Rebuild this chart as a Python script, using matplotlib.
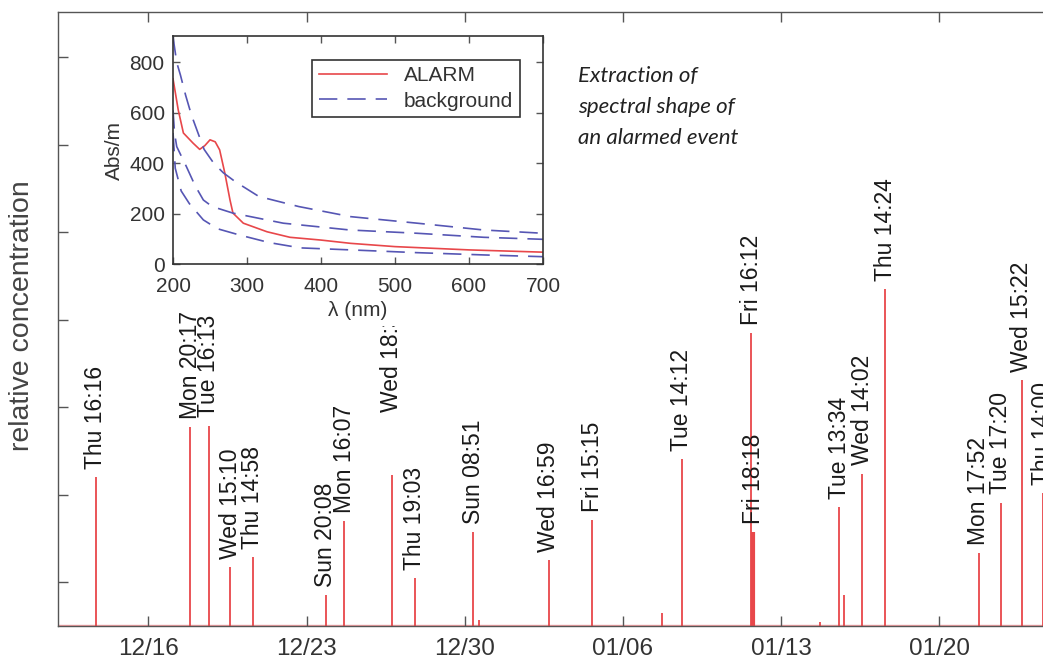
import numpy as np
import pandas as pd
import matplotlib
matplotlib.use("Agg")
import matplotlib.pyplot as plt
import matplotlib.dates as mdates
from matplotlib.patches import Rectangle

plt.rcParams['font.family'] = ['Liberation Sans', 'DejaVu Sans']

# alarm events: time stamp, label, relative peak height
event_times = ["2012-12-13 16:16", "2012-12-17 20:17", "2012-12-18 16:13", "2012-12-19 15:10",
               "2012-12-20 14:58", "2012-12-23 20:08", "2012-12-24 16:07", "2012-12-26 18:30",
               "2012-12-27 19:03", "2012-12-30 08:51", "2013-01-02 16:59", "2013-01-04 15:15",
               "2013-01-08 14:12", "2013-01-11 16:12", "2013-01-11 18:18", "2013-01-15 13:34",
               "2013-01-16 14:02", "2013-01-17 14:24", "2013-01-21 17:52", "2013-01-22 17:20",
               "2013-01-23 15:22", "2013-01-24 14:00"]
event_labels = ["Thu 16:16", "Mon 20:17", "Tue 16:13", "Wed 15:10", "Thu 14:58", "Sun 20:08",
                "Mon 16:07", "Wed 18:30", "Thu 19:03", "Sun 08:51", "Wed 16:59", "Fri 15:15",
                "Tue 14:12", "Fri 16:12", "Fri 18:18", "Tue 13:34", "Wed 14:02", "Thu 14:24",
                "Mon 17:52", "Tue 17:20", "Wed 15:22", "Thu 14:00"]
event_peaks = [1.70, 2.27, 2.29, 0.67, 0.79, 0.35, 1.20, 1.73, 0.55, 1.07, 0.75, 1.21,
               1.91, 3.35, 1.07, 1.36, 1.74, 3.85, 0.83, 1.41, 2.81, 1.52]
# where each label sits (same as the peak, except one placed higher)
label_heights = list(event_peaks)
label_heights[7] = 2.35
event_widths = [1.3] * 22
event_widths[14] = 3.0

# small unlabelled spikes
minor_times = ["2012-12-30 15:30", "2013-01-07 17:40", "2013-01-14 17:00", "2013-01-15 18:30"]
minor_peaks = [0.07, 0.15, 0.04, 0.35]

week_ticks = ["2012-12-16", "2012-12-23", "2012-12-30", "2013-01-06", "2013-01-13", "2013-01-20"]

# absorbance spectra (inset)
alarm_nm = [200, 207, 214, 227, 236, 243, 250, 257, 263, 270, 277, 281, 295, 327, 358, 400, 440, 500, 600, 700]
alarm_abs = [735, 612, 520, 480, 455, 470, 493, 485, 453, 361, 254, 202, 162, 128, 106, 95, 82, 69, 56, 47]

bg1_nm = [200, 205, 210, 217, 225, 235, 242, 255, 268, 284, 316, 370, 440, 530, 620, 700]
bg1_abs = [900, 800, 750, 670, 590, 510, 455, 400, 362, 327, 268, 228, 188, 162, 135, 122]
bg2_nm = [200, 202, 205, 218, 230, 241, 253, 281, 349, 439, 530, 620, 700]
bg2_abs = [610, 520, 466, 387, 310, 254, 228, 202, 162, 135, 122, 106, 98]
bg3_nm = [200, 203, 211, 222, 241, 260, 290, 330, 372, 440, 530, 620, 700]
bg3_abs = [520, 380, 290, 240, 175, 140, 115, 85, 64, 56, 45, 36, 29]

red = '#e8474a'
blue = '#5656b4'
axcol = '#555555'

fig = plt.figure(figsize=(10.43, 6.62), dpi=100)
ax = fig.add_axes([0.0556, 0.0544, 0.975, 0.9275])

t_events = pd.to_datetime(event_times)
t_minor = pd.to_datetime(minor_times)

ax.axhline(0.01, color=red, lw=1.0, alpha=0.5, zorder=1)
ax.vlines(t_events, 0, event_peaks, colors=red, linewidths=event_widths, zorder=2)
ax.vlines(t_minor, 0, minor_peaks, colors=red, linewidths=1.3, zorder=2)

for t, lab, h in zip(t_events, event_labels, label_heights):
    ax.annotate(lab, xy=(t, h), xytext=(0, 6), textcoords='offset points',
                rotation=90, ha='center', va='bottom', fontsize=16.5, color='#1a1a1a', zorder=3)

ax.set_xlim(pd.Timestamp("2012-12-12"), pd.Timestamp("2013-01-26"))
ax.set_ylim(0, 7.02)
ax.set_xticks(pd.to_datetime(week_ticks))
ax.xaxis.set_major_formatter(mdates.DateFormatter('%m/%d'))
ax.set_yticks(np.arange(0.5, 7, 1))
ax.set_yticklabels([])
ax.tick_params(direction='in', length=7, width=1, colors=axcol, labelcolor='#333333',
               labelsize=17.5, top=True, pad=9)
ax.tick_params(axis='y', pad=4)
for s in ax.spines.values():
    s.set_color(axcol)
    s.set_linewidth(1.0)
ax.set_ylabel('relative concentration', fontsize=20.5, color='#444444')
ax.yaxis.set_label_coords(-0.0226, 0.505)

# white backing under the inset's x-axis area
fig.add_artist(Rectangle((360 / 1043, 1 - 326 / 662), 70 / 1043, (326 - 24) / 662,
                         transform=fig.transFigure, facecolor='white',
                         edgecolor='none', zorder=0.5))

ax.text(0.5115, 0.912, 'Extraction of\nspectral shape of\nan alarmed event',
        transform=ax.transAxes, fontsize=16, style='italic', family='Lato',
        color='#222222', va='top', ha='left', linespacing=1.68)

ins = fig.add_axes([0.1659, 0.6012, 0.3547, 0.3444], zorder=1)
ins.plot(alarm_nm, alarm_abs, color=red, lw=1.2, label='ALARM')
ins.plot(bg1_nm, bg1_abs, color=blue, lw=1.2, dashes=(11, 6), label='background')
ins.plot(bg2_nm, bg2_abs, color=blue, lw=1.2, dashes=(11, 6))
ins.plot(bg3_nm, bg3_abs, color=blue, lw=1.2, dashes=(11, 6))
ins.set_xlim(200, 700)
ins.set_ylim(0, 905)
ins.set_xticks([200, 300, 400, 500, 600, 700])
ins.set_yticks([0, 200, 400, 600, 800])
ins.tick_params(direction='in', length=5, width=1, colors=axcol, labelcolor='#333333',
                labelsize=15, top=True, right=True)
ins.tick_params(axis='x', pad=9)
ins.tick_params(axis='y', pad=6)
for s in ins.spines.values():
    s.set_color('#333333')
    s.set_linewidth(1.2)
ins.set_xlabel('λ (nm)', fontsize=15, color='#333333', labelpad=4)
ins.set_ylabel('Abs/m', fontsize=15, color='#333333', labelpad=4)
leg = ins.legend(loc='upper right', bbox_to_anchor=(0.965, 0.94), fontsize=15,
                 fancybox=False, framealpha=1, edgecolor='#333333',
                 handlelength=3.3, borderpad=0.3, labelspacing=0.3)
leg.get_frame().set_linewidth(1.2)
for t in leg.get_texts():
    t.set_color('#333333')

fig.savefig('out.png', dpi=100)
